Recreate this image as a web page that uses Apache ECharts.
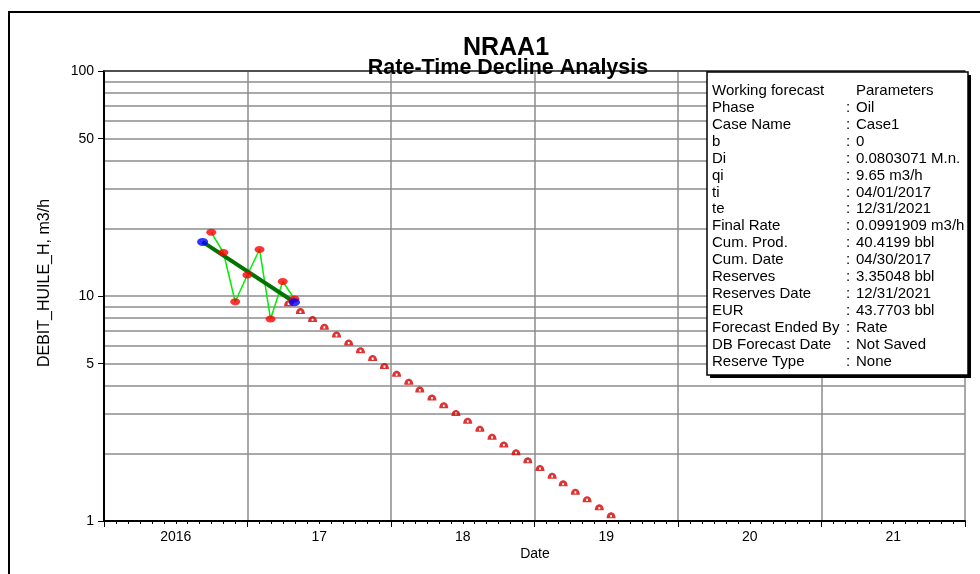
<!DOCTYPE html>
<html>
<head>
<meta charset="utf-8">
<script src="https://cdn.jsdelivr.net/npm/echarts@6/dist/echarts.min.js"></script>
<style>
  html, body { margin: 0; padding: 0; background: #fff; }
  #chart { width: 980px; height: 574px; }
</style>
</head>
<body>
<div id="chart"></div>
<script>
// Year bands along the date axis
const yearLabels = ['2016', '17', '18', '19', '20', '21'];

// Rate axis: labelled values and gridline values (log scale)
const rateTicks = [1, 5, 10, 50, 100];
const rateGrid = [1, 2, 3, 4, 5, 6, 7, 8, 9, 10, 20, 30, 40, 50, 60, 70, 80, 90, 100];

// Monthly production history (m3/h)
const histDates = ['2016-09-30', '2016-10-31', '2016-11-30', '2016-12-31',
                   '2017-01-31', '2017-02-28', '2017-03-31', '2017-04-30'];
const histRates = [19.2, 15.6, 9.43, 12.4, 16.1, 7.90, 11.6, 9.70];

// Exponential fit through the history (end points)
const fitDates = ['2016-09-08', '2017-04-30'];
const fitRates = [17.4, 9.38];

// Forecast rates, monthly
const forecastDates = [
  '2017-04-15', '2017-05-15', '2017-06-15', '2017-07-15', '2017-08-15', '2017-09-15',
  '2017-10-15', '2017-11-15', '2017-12-15', '2018-01-15', '2018-02-15', '2018-03-15',
  '2018-04-15', '2018-05-15', '2018-06-15', '2018-07-15', '2018-08-15', '2018-09-15',
  '2018-10-15', '2018-11-15', '2018-12-15', '2019-01-15', '2019-02-15', '2019-03-15',
  '2019-04-15', '2019-05-15', '2019-06-15', '2019-07-15'
];
const forecastRates = [
  9.29, 8.57, 7.91, 7.30, 6.74, 6.22, 5.74, 5.30, 4.89, 4.51, 4.16, 3.84,
  3.54, 3.27, 3.02, 2.79, 2.57, 2.37, 2.19, 2.02, 1.86, 1.72, 1.59, 1.47,
  1.35, 1.25, 1.15, 1.06
];

// Forecast parameter table
const paramNames = ['Working forecast', 'Phase', 'Case Name', 'b', 'Di', 'qi', 'ti', 'te',
  'Final Rate', 'Cum. Prod.', 'Cum. Date', 'Reserves', 'Reserves Date', 'EUR',
  'Forecast Ended By', 'DB Forecast Date', 'Reserve Type'];
const paramValues = ['Parameters', 'Oil', 'Case1', '0', '0.0803071 M.n.', '9.65 m3/h',
  '04/01/2017', '12/31/2021', '0.0991909 m3/h', '40.4199 bbl', '04/30/2017',
  '3.35048 bbl', '12/31/2021', '43.7703 bbl', 'Rate', 'Not Saved', 'None'];

const FONT = '"Liberation Sans", Arial, sans-serif';
const GRID_GREY = '#8c8c8c';

const pairs = (xs, ys) => xs.map((x, i) => [x, ys[i]]);

// Half-dome marker with a small hole in the middle
const domeSymbol = 'path://M0,6 C0,-1 10,-1 10,6 Z M4,3 L4,5 L6,5 L6,3 Z';

const chart = echarts.init(document.getElementById('chart'), null, { renderer: 'canvas' });

// Parameter box contents
const boxX = 707, boxY = 72, boxW = 261, boxH = 303;
const rowTop = 91, rowStep = 16.9;
const boxFont = '15px ' + FONT;
const boxText = [];
paramNames.forEach((name, i) => {
  const y = rowTop + i * rowStep;
  boxText.push({
    type: 'text', x: 712, y: y, z: 102, silent: true,
    style: { text: name, font: boxFont, fill: '#000', verticalAlign: 'middle' }
  });
  if (i > 0) {
    boxText.push({
      type: 'text', x: 846, y: y, z: 102, silent: true,
      style: { text: ':', font: boxFont, fill: '#000', verticalAlign: 'middle' }
    });
  }
  boxText.push({
    type: 'text', x: 856, y: y, z: 102, silent: true,
    style: { text: paramValues[i], font: boxFont, fill: '#000', verticalAlign: 'middle' }
  });
});

const option = {
  animation: false,
  backgroundColor: '#fff',
  grid: { left: 104, top: 71, right: 15, bottom: 53, containLabel: false },
  xAxis: [
    { // data axis (dates)
      type: 'time', min: '2016-01-01', max: '2022-01-01', show: false
    },
    { // year bands: labels, year ticks, year gridlines
      type: 'category', data: yearLabels, boundaryGap: true, position: 'bottom',
      axisLine: { show: true, onZero: false, lineStyle: { color: '#000', width: 2 } },
      axisTick: { show: true, interval: 0, length: 6, lineStyle: { color: '#000', width: 1 } },
      axisLabel: { interval: 0, color: '#000', fontSize: 14, fontFamily: FONT, margin: 9 },
      splitLine: { show: true, interval: 0, lineStyle: { color: GRID_GREY, width: 1.5 } }
    },
    { // monthly minor ticks
      type: 'value', min: 0, max: 72, interval: 1, position: 'bottom',
      axisLine: { show: false, onZero: false },
      axisTick: { show: true, length: 3, lineStyle: { color: '#000', width: 1 } },
      axisLabel: { show: false },
      splitLine: { show: false }
    },
    { // top frame line
      type: 'value', min: 0, max: 1, position: 'top',
      axisLine: { show: true, onZero: false, lineStyle: { color: '#333', width: 1.5 } },
      axisTick: { show: false }, axisLabel: { show: false }, splitLine: { show: false }
    }
  ],
  yAxis: [
    {
      type: 'log', logBase: 10, min: 1, max: 100, position: 'left',
      axisLine: { show: true, onZero: false, lineStyle: { color: '#000', width: 2 } },
      axisTick: { show: true, length: 6, customValues: rateTicks, lineStyle: { color: '#000', width: 1 } },
      axisLabel: { customValues: rateTicks, color: '#000', fontSize: 14, fontFamily: FONT, margin: 10 },
      splitLine: { show: false }
    },
    {
      type: 'log', logBase: 10, min: 1, max: 100, position: 'left',
      axisLine: { show: false, onZero: false },
      axisTick: { show: false, customValues: rateGrid },
      axisLabel: { show: false },
      splitLine: { show: true, lineStyle: { color: GRID_GREY, width: 1.5 } }
    }
  ],
  series: [
    {
      name: 'History', type: 'line', xAxisIndex: 0, yAxisIndex: 0,
      data: pairs(histDates, histRates), symbol: 'none',
      lineStyle: { color: '#00ee00', width: 1.5 }, z: 3, silent: true
    },
    {
      name: 'Fit', type: 'line', xAxisIndex: 0, yAxisIndex: 0,
      data: pairs(fitDates, fitRates), symbol: 'none',
      lineStyle: { color: '#007400', width: 4 }, z: 4, silent: true
    },
    {
      name: 'Forecast', type: 'scatter', xAxisIndex: 0, yAxisIndex: 0,
      data: pairs(forecastDates, forecastRates), symbol: domeSymbol, symbolSize: [9, 6],
      itemStyle: { color: '#d40000' }, z: 5, silent: true
    },
    {
      name: 'History points', type: 'scatter', xAxisIndex: 0, yAxisIndex: 0,
      data: pairs(histDates, histRates), symbol: 'circle', symbolSize: [10, 7],
      itemStyle: { color: '#ff0000' }, z: 6, silent: true
    },
    {
      name: 'Fit ends', type: 'scatter', xAxisIndex: 0, yAxisIndex: 0,
      data: pairs(fitDates, fitRates), symbol: 'circle', symbolSize: [11, 8],
      itemStyle: { color: '#0000ff' }, z: 7, silent: true
    }
  ],
  graphic: [
    { // outer frame
      type: 'rect', silent: true, z: 100,
      shape: { x: 9, y: 12, width: 1000, height: 600 },
      style: { fill: 'none', stroke: '#000', lineWidth: 2 }
    },
    {
      type: 'text', x: 506, y: 48, z: 100, silent: true,
      style: { text: 'NRAA1', font: 'bold 25px ' + FONT, fill: '#000', align: 'center', verticalAlign: 'middle' }
    },
    {
      type: 'text', x: 508, y: 68, z: 1, silent: true,
      style: { text: 'Rate-Time Decline Analysis', font: 'bold 21.5px ' + FONT, fill: '#000', align: 'center', verticalAlign: 'middle' }
    },
    {
      type: 'text', x: 45, y: 283, rotation: Math.PI / 2, z: 100, silent: true,
      style: { text: 'DEBIT_HUILE_H, m3/h', font: '16px ' + FONT, fill: '#000', align: 'center', verticalAlign: 'middle' }
    },
    {
      type: 'text', x: 535, y: 554, z: 100, silent: true,
      style: { text: 'Date', font: '14px ' + FONT, fill: '#000', align: 'center', verticalAlign: 'middle' }
    },
    { // parameter box shadow
      type: 'rect', silent: true, z: 100,
      shape: { x: boxX + 3, y: boxY + 3, width: boxW, height: boxH },
      style: { fill: '#000' }
    },
    { // parameter box
      type: 'rect', silent: true, z: 101,
      shape: { x: boxX, y: boxY, width: boxW, height: boxH },
      style: { fill: '#fff', stroke: '#000', lineWidth: 1.5 }
    }
  ].concat(boxText)
};

chart.setOption(option);
</script>
</body>
</html>
